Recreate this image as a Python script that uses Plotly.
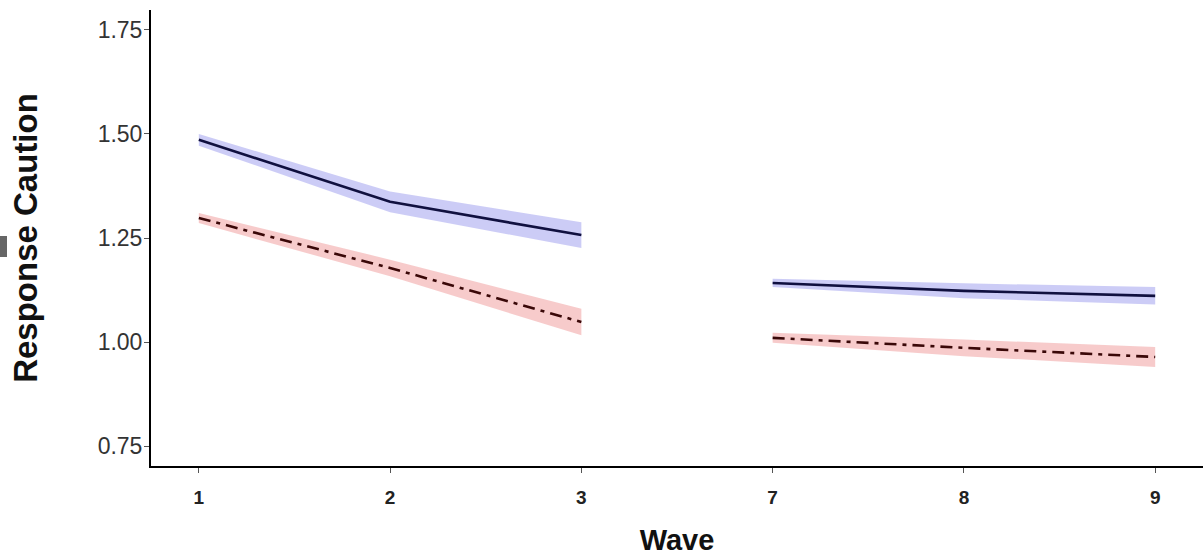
import plotly.graph_objects as go

waves = ["1", "2", "3", "7", "8", "9"]
blue_mean = [1.486, 1.337, 1.257, 1.142, 1.123, 1.111]
blue_se = [0.014, 0.025, 0.031, 0.010, 0.018, 0.021]
red_mean = [1.298, 1.178, 1.048, 1.010, 0.986, 0.964]
red_se = [0.012, 0.020, 0.032, 0.012, 0.020, 0.024]
y_ticks = [0.75, 1.00, 1.25, 1.50, 1.75]
segments = [(0, 3), (3, 6)]

fig = go.Figure()

def add_series(mean, se, fill, line_color, dash):
    for a, b in segments:
        xs = list(range(a, b))
        lo = [m - s for m, s in zip(mean[a:b], se[a:b])]
        hi = [m + s for m, s in zip(mean[a:b], se[a:b])]
        fig.add_trace(go.Scatter(x=xs + xs[::-1], y=hi + lo[::-1], fill="toself",
                                 fillcolor=fill, line=dict(width=0), mode="lines",
                                 hoverinfo="skip", showlegend=False))
    for a, b in segments:
        xs = list(range(a, b))
        fig.add_trace(go.Scatter(x=xs, y=mean[a:b], mode="lines",
                                 line=dict(color=line_color, width=2.6, dash=dash),
                                 showlegend=False))

add_series(blue_mean, blue_se, "rgba(170,170,240,0.6)", "#10103f", "solid")
add_series(red_mean, red_se, "rgba(240,160,160,0.55)", "#3a0808", "12px,6px,4px,6px")

fig.update_layout(
    width=1203, height=557,
    margin=dict(l=151, r=0, t=10, b=91),
    plot_bgcolor="white", paper_bgcolor="white",
    font=dict(family="Liberation Sans, Arial, sans-serif", color="#222"),
    xaxis=dict(
        range=[-0.25, 5.25], tickmode="array", tickvals=list(range(len(waves))),
        ticktext=waves, showgrid=False, zeroline=False, automargin=False,
        showline=True, linecolor="black", linewidth=2,
        ticks="outside", ticklen=5, tickcolor="#555", tickwidth=1,
        tickfont=dict(size=19, color="#222", weight="bold"),
        ticklabelstandoff=8,
        title=dict(text="Wave", font=dict(size=29, color="#111", weight="bold"), standoff=23),
    ),
    yaxis=dict(
        range=[0.702, 1.798], tickmode="array", tickvals=y_ticks,
        ticktext=[f"{v:.2f}" for v in y_ticks], showgrid=False, zeroline=False, automargin=False,
        showline=True, linecolor="black", linewidth=2,
        ticks="outside", ticklen=5, tickcolor="#555", tickwidth=1,
        tickfont=dict(size=23, color="#333"),
        ticklabelstandoff=-3,
        title=dict(text="Response Caution", font=dict(size=33, color="#111", weight="bold"), standoff=50),
    ),
)

fig.add_shape(type="rect", xref="paper", yref="paper",
              x0=(0 - 151) / 1052, x1=(7 - 151) / 1052,
              y0=(466 - 257) / 456, y1=(466 - 236) / 456,
              fillcolor="#666", line=dict(width=0))

fig.write_html("out.html", config={"displayModeBar": False},
               post_script="document.body.style.margin='0';")
